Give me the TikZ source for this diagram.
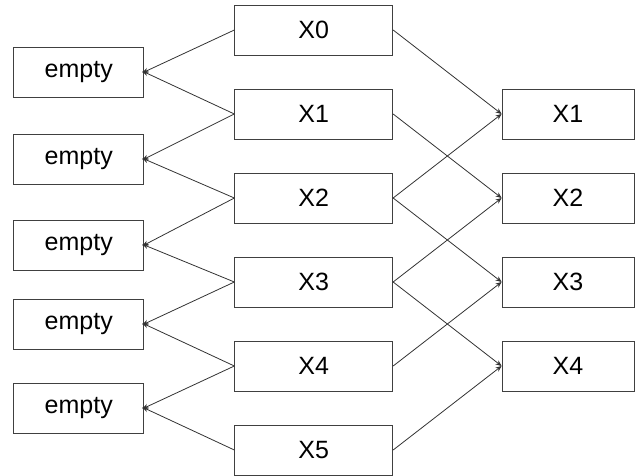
\documentclass[tikz,border=0pt]{standalone}
\usepackage{fontspec}
\setmainfont{Liberation Sans}
\usetikzlibrary{arrows.meta,positioning}

\begin{document}
\begin{tikzpicture}[x=1pt, y=-1pt,
  box/.style={draw=black!75, line width=0.8pt, minimum height=50pt, inner sep=0pt, font=\fontsize{25}{28}\selectfont},
  link/.style={-{Stealth[length=6pt,width=5pt]}, line width=0.8pt, draw=black!80}]

\useasboundingbox (0,0) rectangle (642,476);

% source slots
\foreach \i in {0,...,5}
  \node[box, minimum width=158pt] (x\i) at (313.75, 30+84*\i) {X\i};

% empty slots on the left
\foreach \k/\ypos in {1/72, 2/159, 3/245, 4/324, 5/408}
  \node[box, minimum width=130pt] (e\k) at (78.75, \ypos) {empty};

% targets on the right
\foreach \j in {1,...,4}
  \node[box, minimum width=132pt] (y\j) at (568, 30+84*\j) {X\j};

% links to the left
\foreach \k in {1,...,5} {
  \pgfmathtruncatemacro{\p}{\k-1}
  \draw[link, shorten >=-2pt] (x\p.west) -- (e\k.east);
  \draw[link, shorten >=-2pt] (x\k.west) -- (e\k.east);
}

% links to the right
\foreach \j in {1,...,4} {
  \pgfmathtruncatemacro{\p}{\j-1}
  \pgfmathtruncatemacro{\n}{\j+1}
  \draw[link] (x\p.east) -- (y\j.west);
  \draw[link] (x\n.east) -- (y\j.west);
}

\end{tikzpicture}
\end{document}
